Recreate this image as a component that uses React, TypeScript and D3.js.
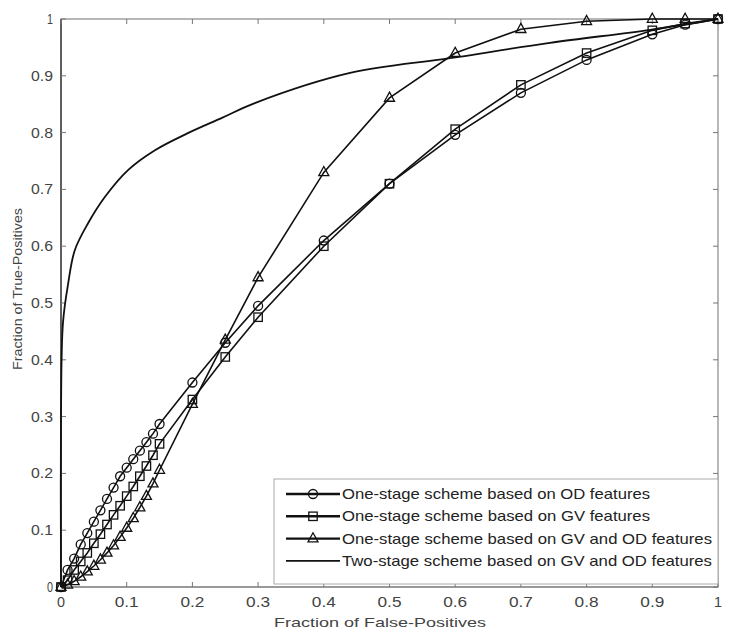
import { useEffect, useRef } from "react";
import * as d3 from "d3";

const fpr = [0, 0.01, 0.02, 0.03, 0.04, 0.05, 0.06, 0.07, 0.08, 0.09, 0.1, 0.11, 0.12, 0.13, 0.14, 0.15, 0.2, 0.25, 0.3, 0.4, 0.5, 0.6, 0.7, 0.8, 0.9, 0.95, 1];

const tprOD = [0, 0.03, 0.05, 0.075, 0.095, 0.115, 0.135, 0.155, 0.175, 0.195, 0.21, 0.225, 0.24, 0.255, 0.27, 0.287, 0.36, 0.43, 0.495, 0.61, 0.71, 0.796, 0.87, 0.928, 0.973, 0.99, 1];
const tprGV = [0, 0.012, 0.03, 0.045, 0.06, 0.077, 0.093, 0.11, 0.127, 0.143, 0.16, 0.177, 0.195, 0.213, 0.232, 0.252, 0.33, 0.405, 0.475, 0.6, 0.71, 0.806, 0.884, 0.94, 0.98, 0.992, 1];
const tprGVOD = [0, 0.004, 0.01, 0.018, 0.027, 0.037, 0.048, 0.06, 0.073, 0.088, 0.104, 0.121, 0.14, 0.16, 0.182, 0.206, 0.322, 0.435, 0.545, 0.73, 0.861, 0.94, 0.982, 0.996, 1, 1, 1];

const twoStageX = [0, 0, 0.003, 0.011, 0.021, 0.041, 0.067, 0.102, 0.143, 0.193, 0.245, 0.295, 0.44, 0.592, 0.744, 0.897, 1];
const twoStageY = [0, 0.3, 0.465, 0.535, 0.593, 0.64, 0.687, 0.734, 0.769, 0.799, 0.826, 0.852, 0.905, 0.931, 0.958, 0.981, 1];

const ticks = [0, 0.1, 0.2, 0.3, 0.4, 0.5, 0.6, 0.7, 0.8, 0.9, 1];
const tickLabels = ["0", "0.1", "0.2", "0.3", "0.4", "0.5", "0.6", "0.7", "0.8", "0.9", "1"];

const legendLabels = [
  "One-stage scheme based on OD features",
  "One-stage scheme based on GV features",
  "One-stage scheme based on GV and OD features",
  "Two-stage scheme based on GV and OD features",
];
const markerTypes = ["circle", "square", "triangle", "none"];

export default function App() {
  const ref = useRef<SVGSVGElement | null>(null);

  useEffect(() => {
    const svg = d3.select(ref.current);
    svg.selectAll("*").remove();

    const x = d3.scaleLinear().domain([0, 1]).range([61, 718]);
    const y = d3.scaleLinear().domain([0, 1]).range([587, 19]);
    const font = "'Liberation Sans', Arial, sans-serif";
    const axisColor = "#555";

    svg.append("rect").attr("width", 736).attr("height", 639).attr("fill", "#fff");

    // box around the plot, matlab style
    svg
      .append("rect")
      .attr("x", x(0))
      .attr("y", y(1))
      .attr("width", x(1) - x(0))
      .attr("height", y(0) - y(1))
      .attr("fill", "none")
      .attr("stroke", "#888")
      .attr("stroke-width", 1.2);
    svg.append("line").attr("x1", x(0)).attr("x2", x(0)).attr("y1", y(0)).attr("y2", y(1))
      .attr("stroke", axisColor).attr("stroke-width", 1.8);
    svg.append("line").attr("x1", x(0)).attr("x2", x(1)).attr("y1", y(0)).attr("y2", y(0))
      .attr("stroke", "#999").attr("stroke-width", 2);

    const tk = svg.append("g").attr("stroke", "#777").attr("stroke-width", 1);
    ticks.forEach((t) => {
      tk.append("line").attr("x1", x(t)).attr("x2", x(t)).attr("y1", y(0)).attr("y2", y(0) - 5);
      tk.append("line").attr("x1", x(t)).attr("x2", x(t)).attr("y1", y(1)).attr("y2", y(1) + 5);
      tk.append("line").attr("x1", x(0)).attr("x2", x(0) + 5).attr("y1", y(t)).attr("y2", y(t));
      tk.append("line").attr("x1", x(1)).attr("x2", x(1) - 5).attr("y1", y(t)).attr("y2", y(t));
    });

    const lab = svg.append("g").attr("font-family", font).attr("font-size", 14).attr("fill", "#444");
    ticks.forEach((t, i) => {
      const s = tickLabels[i];
      const w = s.length > 1 ? 24 : 8;
      lab.append("text").attr("x", x(t)).attr("y", y(0) + 20).attr("text-anchor", "middle")
        .attr("textLength", w).attr("lengthAdjust", "spacingAndGlyphs").text(s);
      lab.append("text").attr("x", x(0) - 8).attr("y", y(t) + 5).attr("text-anchor", "end")
        .attr("textLength", w - 2).attr("lengthAdjust", "spacingAndGlyphs").text(s);
    });
    lab.append("text").attr("x", 380).attr("y", 627).attr("text-anchor", "middle").attr("font-size", 13)
      .attr("textLength", 212).attr("lengthAdjust", "spacingAndGlyphs")
      .text("Fraction of False-Positives");
    lab.append("text").attr("transform", `translate(22,289) rotate(-90)`).attr("text-anchor", "middle")
      .attr("font-size", 13).attr("textLength", 162).attr("lengthAdjust", "spacingAndGlyphs")
      .text("Fraction of True-Positives");

    const line = d3.line<[number, number]>().x((d) => x(d[0])).y((d) => y(d[1]));

    function drawMarker(g: any, type: string, cx: number, cy: number) {
      if (type === "circle") {
        g.append("circle").attr("cx", cx).attr("cy", cy).attr("r", 4.5);
      } else if (type === "square") {
        g.append("rect").attr("x", cx - 4.2).attr("y", cy - 4.2).attr("width", 8.4).attr("height", 8.4);
      } else if (type === "triangle") {
        g.append("path").attr("d", `M${cx},${cy - 5.8}L${cx + 5},${cy + 3.3}L${cx - 5},${cy + 3.3}Z`);
      }
    }

    const series = [tprOD, tprGV, tprGVOD];
    series.forEach((vals, si) => {
      const pts = fpr.map((f, i) => [f, vals[i]] as [number, number]);
      svg.append("path").attr("d", line(pts)).attr("fill", "none").attr("stroke", "#111").attr("stroke-width", 1.6);
      const mg = svg.append("g").attr("fill", "none").attr("stroke", "#111").attr("stroke-width", 1.3);
      pts.forEach((p) => drawMarker(mg, markerTypes[si], x(p[0]), y(p[1])));
    });

    const twoPts = twoStageX.map((v, i) => [v, twoStageY[i]] as [number, number]);
    const smooth = d3.line<[number, number]>().x((d) => x(d[0])).y((d) => y(d[1]))
      .curve(d3.curveCatmullRom.alpha(0.5));
    svg.append("path")
      .attr("d", smooth(twoPts))
      .attr("fill", "none").attr("stroke", "#111").attr("stroke-width", 1.8);

    // legend
    const lg = svg.append("g");
    lg.append("rect").attr("x", 274).attr("y", 479).attr("width", x(1) - 274).attr("height", 105)
      .attr("fill", "#fff").attr("stroke", "#aaa").attr("stroke-width", 1);
    const widths = [308, 308, 370, 370];
    legendLabels.forEach((txt, i) => {
      const ly = 494 + i * 22.3;
      lg.append("line").attr("x1", 286).attr("x2", 340).attr("y1", ly).attr("y2", ly)
        .attr("stroke", "#111").attr("stroke-width", i < 3 ? 2.4 : 1.8);
      const mg = lg.append("g").attr("fill", "none").attr("stroke", "#111").attr("stroke-width", 1.3);
      drawMarker(mg, markerTypes[i], 313, ly);
      lg.append("text").attr("x", 342).attr("y", ly + 5).attr("font-family", font).attr("font-size", 15)
        .attr("textLength", widths[i]).attr("lengthAdjust", "spacingAndGlyphs")
        .attr("fill", "#222").text(txt);
    });
  }, []);

  return (
    <svg
      ref={ref}
      width={736}
      height={639}
      style={{ position: "absolute", left: 0, top: 0 }}
    />
  );
}
